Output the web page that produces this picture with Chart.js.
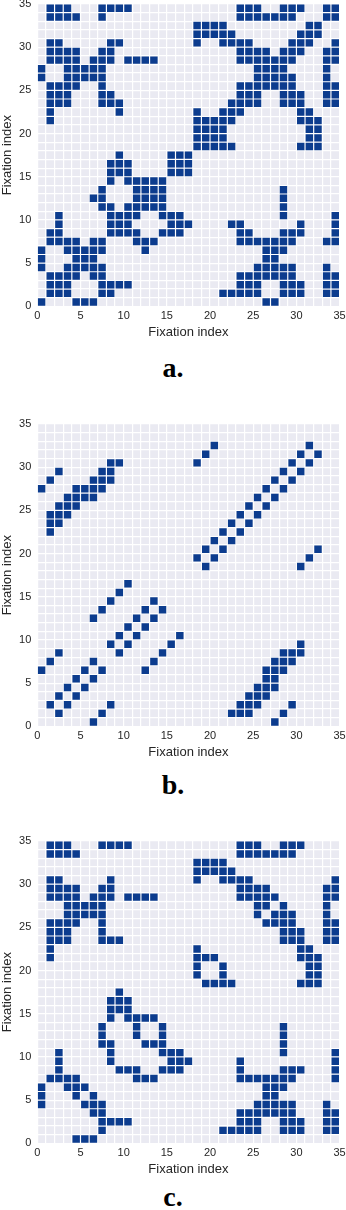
<!DOCTYPE html>
<html>
<head>
<meta charset="utf-8">
<script src="https://cdn.jsdelivr.net/npm/chart.js@4.4.0/dist/chart.umd.min.js"></script>
<style>
  html, body { margin: 0; padding: 0; background: #fff; }
  body { width: 346px; height: 1210px; position: relative; overflow: hidden; }
  .panel { position: absolute; left: 0; width: 346px; height: 344px; }
  .caption {
    position: absolute; left: 0; width: 346px; text-align: center;
    font-family: "Liberation Serif", "Times New Roman", serif;
    font-weight: bold; font-size: 28px; line-height: 28px; color: #000;
  }
</style>
</head>
<body>
<div class="panel" style="top:-3.7px"><canvas id="plotA"></canvas></div>
<div class="caption" style="top:354px">a.</div>
<div class="panel" style="top:415.7px"><canvas id="plotB"></canvas></div>
<div class="caption" style="top:771px">b.</div>
<div class="panel" style="top:832.7px"><canvas id="plotC"></canvas></div>
<div class="caption" style="top:1183px">c.</div>

<script>
const axisTicks = [0, 5, 10, 15, 20, 25, 30, 35];
const axisTitle = "Fixation index";

// one entry per fixation index i (0..34): the fixation indices j with a recurrence (i, j)
const rowsA = [
  [0,4,5,6,26,27],
  [1,2,3,7,8,21,22,23,24,25,28,29,30,33,34],
  [1,2,3,7,8,9,10,23,24,25,28,29,30,33,34],
  [1,2,3,4,6,7,23,24,25,26,27,28,29,33,34],
  [0,3,4,5,6,7,25,26,27,28,29,33],
  [0,4,5,6,26,27],
  [0,3,4,5,6,7,12,26,27,28],
  [1,2,3,4,6,7,11,12,13,23,24,25,26,27,28,29,33,34],
  [1,2,8,9,10,11,14,15,16,23,24,28,29,30,34],
  [2,8,9,10,15,16,17,22,23,30,34],
  [2,8,9,10,11,14,15,16,28,34],
  [7,8,10,11,12,13,14,28],
  [6,7,11,12,13,14,28],
  [7,11,12,13,14,28],
  [8,10,11,12,13,14],
  [8,9,10,15,16,17],
  [8,9,10,15,16,17],
  [9,15,16,17],
  [18,19,20,21,22,30,31,32],
  [18,19,20,21,31,32],
  [18,19,20,21,31,32],
  [1,18,19,20,21,22,30,31,32],
  [1,9,18,21,22,23,30,31],
  [1,2,3,7,8,9,22,23,24,25,28,29,30,33,34],
  [1,2,3,7,8,23,24,25,28,29,30,33,34],
  [1,2,3,4,7,23,24,25,26,27,28,29,33,34],
  [0,3,4,5,6,7,25,26,27,28,29,33],
  [0,3,4,5,6,7,25,26,27,28,33],
  [1,2,3,4,6,7,8,10,11,12,13,23,24,25,26,27,28,29,33,34],
  [1,2,3,4,7,8,23,24,25,26,28,29,30,33,34],
  [1,2,8,9,18,21,22,23,24,29,30,31,34],
  [18,19,20,21,22,30,31,32],
  [18,19,20,21,31,32],
  [1,2,3,4,7,23,24,25,26,27,28,29,33,34],
  [1,2,3,7,8,9,10,23,24,25,28,29,30,33,34]
];

const rowsB = [
  [6,27],
  [2,7,22,23,24,28],
  [1,3,8,23,24,25,29],
  [2,4,24,25,26],
  [3,5,25,26,27],
  [4,6,26,27],
  [0,5,7,12,26,27,28],
  [1,6,13,27,28,29],
  [2,9,14,28,29,30],
  [8,10,15,30],
  [9,11,16],
  [10,12],
  [6,11,13],
  [7,12,14],
  [8,13],
  [9],
  [10],
  [],
  [19,30],
  [18,20,31],
  [19,21,32],
  [20,22],
  [1,21,23],
  [1,2,22,24],
  [1,2,3,23,25],
  [2,3,4,24,26],
  [3,4,5,6,25,27],
  [0,4,5,6,7,26,28],
  [1,6,7,8,27,29],
  [2,7,8,28,30],
  [8,9,18,29,31],
  [19,30,32],
  [20,31],
  [],
  []
];

const rowsC = [
  [4,5,6],
  [7,21,22,23,24,25,28,29,30,33,34],
  [7,8,9,10,23,24,25,28,29,30,33,34],
  [6,7,23,24,25,26,27,28,29,33,34],
  [0,5,6,7,25,26,27,28,29,33],
  [0,4,6,26,27],
  [0,3,4,5,26,27,28],
  [1,2,3,4,11,12,13,23,24,25,26,27,28,29,34],
  [2,9,10,11,14,15,16,23,28,29,30,34],
  [2,8,15,16,17,23,34],
  [2,8,14,15,16,28,34],
  [7,8,12,13,14,28],
  [7,11,14,28],
  [7,11,14,28],
  [8,10,11,12,13],
  [8,9,10],
  [8,9,10],
  [9],
  [19,20,21,22,30,31,32],
  [18,21,31,32],
  [18,21,31,32],
  [1,18,19,20,30,31,32],
  [1,18,30,31],
  [1,2,3,7,8,9,28,29,30,33,34],
  [1,2,3,7,28,29,30,33,34],
  [1,2,3,4,7,26,27,28,29,33,34],
  [3,4,5,6,7,25,27,28,29,33],
  [3,4,5,6,7,25,26,28,33],
  [1,2,3,4,6,7,8,10,11,12,13,23,24,25,26,27,33,34],
  [1,2,3,4,7,8,23,24,25,26,33,34],
  [1,2,8,18,21,22,23,24,34],
  [18,19,20,21,22],
  [18,19,20,21],
  [1,2,3,4,23,24,25,26,27,28,29],
  [1,2,3,7,8,9,10,23,24,25,28,29,30]
];

const cellColor = "#0c3c8e";
const emptyColor = "#eaeaf2";
const textColor = "#262626";

// fond gris de la zone de tracé
const plotBackground = {
  id: "plotBackground",
  beforeDraw(chart) {
    const { ctx, chartArea } = chart;
    ctx.save();
    ctx.fillStyle = emptyColor;
    ctx.fillRect(chartArea.left, chartArea.top, chartArea.width, chartArea.height);
    ctx.restore();
  }
};

function toPoints(rows) {
  const pts = [];
  rows.forEach((cols, i) => {
    cols.forEach(j => pts.push({ x: j + 0.5, y: i + 0.5 }));
  });
  return pts;
}

// taille du carré = une case de la grille moins le trait blanc
function cellRadius(ctx) {
  const xs = ctx.chart.scales.x;
  const cell = Math.abs(xs.getPixelForValue(1) - xs.getPixelForValue(0));
  return (cell - 1.2) / (2 * Math.SQRT1_2);
}

function axisOptions(isX) {
  return {
    type: "linear",
    min: 0,
    max: 35,
    border: { display: false },
    grid: { color: "#ffffff", lineWidth: 1.2, drawTicks: false },
    ticks: {
      stepSize: 1,
      autoSkip: false,
      maxTicksLimit: 100,
      maxRotation: 0,
      padding: isX ? 3 : 6,
      color: textColor,
      font: { family: "'Liberation Sans', Arial, sans-serif", size: 11 },
      callback: v => axisTicks.includes(v) ? String(v) : ""
    },
    title: {
      display: true,
      text: axisTitle,
      color: textColor,
      padding: 0,
      font: { family: "'Liberation Sans', Arial, sans-serif", size: 13 }
    },
    afterFit(scale) {
      if (isX) {
        scale.height = 33.7;
        scale.paddingLeft = 0;
        scale.paddingRight = 0;
      } else {
        scale.width = 37.3;
        scale.paddingTop = 0;
        scale.paddingBottom = 0;
      }
    }
  };
}

function drawPlot(canvasId, rows) {
  new Chart(document.getElementById(canvasId), {
    type: "scatter",
    data: {
      datasets: [{
        data: toPoints(rows),
        backgroundColor: cellColor,
        pointStyle: "rect",
        pointRadius: cellRadius,
        pointHoverRadius: cellRadius,
        pointBorderWidth: 0
      }]
    },
    options: {
      responsive: true,
      maintainAspectRatio: false,
      animation: false,
      events: [],
      layout: { padding: { top: 8, right: 6.4, bottom: 0, left: 0 } },
      plugins: { legend: { display: false }, tooltip: { enabled: false } },
      scales: { x: axisOptions(true), y: axisOptions(false) }
    },
    plugins: [plotBackground]
  });
}

drawPlot("plotA", rowsA);
drawPlot("plotB", rowsB);
drawPlot("plotC", rowsC);
</script>
</body>
</html>
